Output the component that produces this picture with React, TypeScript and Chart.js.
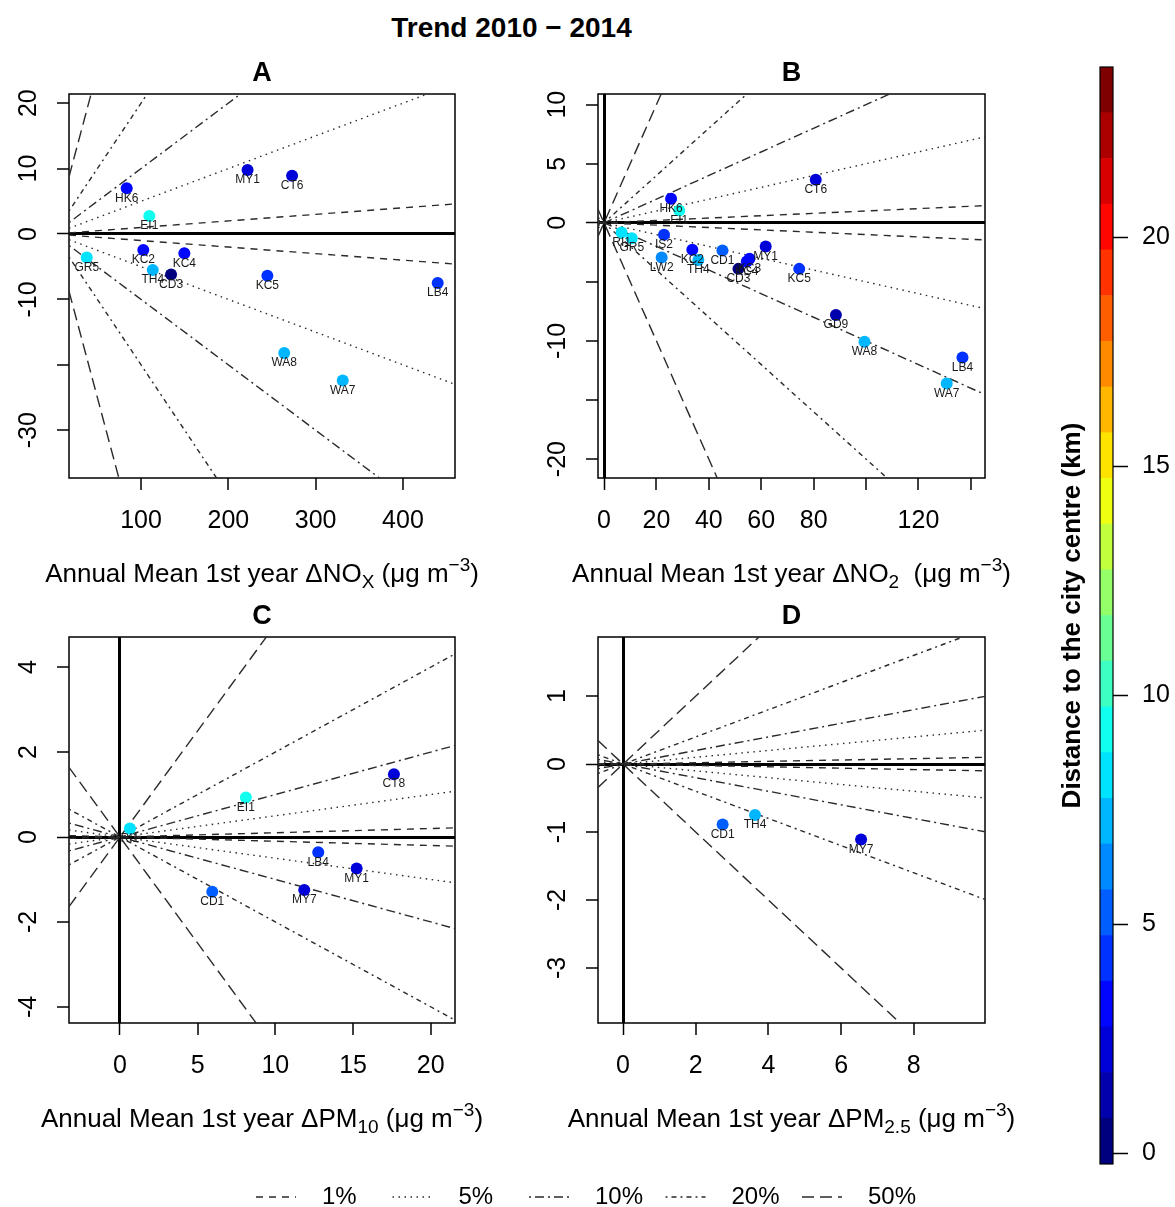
import React, { useEffect, useRef } from 'react';
import { Chart, registerables } from 'chart.js';

Chart.register(...registerables);

const FONT = "'Liberation Sans', Arial, Helvetica, sans-serif";
const INK = '#000000';
const TREND_INK = '#2a2a2a';

// Monitoring sites and their distance to the city centre (km)
const SITE_CODES = ['CD3', 'GD9', 'MY1', 'MY7', 'CT6', 'CT8', 'HK6', 'KC2', 'KC3', 'KC4', 'KC5', 'LB4', 'CD1', 'IS2', 'LW2', 'TH4', 'WA8', 'WA7', 'GR5', 'RI1', 'EI1'];
const SITE_DISTANCE_KM = [0.4, 1.2, 1.9, 1.8, 1.9, 1.9, 2.9, 3.3, 3.5, 3.2, 4.0, 3.9, 5.0, 4.4, 6.0, 6.8, 7.0, 7.3, 8.3, 8.6, 9.3];

// Colour scale (distance, km)
const COLOUR_MIN = -0.23;
const COLOUR_MAX = 23.72;
const COLOUR_LEVELS = 24;
const JET_STOPS = ['#00007F', '#0000FF', '#007FFF', '#00FFFF', '#7FFF7F', '#FFFF00', '#FF7F00', '#FF0000', '#7F0000'];
const COLOURBAR_TICKS = [0, 5, 10, 15, 20];

// Trend reference lines (% change per year)
const TREND_PCTS = [1, 5, 10, 20, 50];
const TREND_LABELS = ['1%', '5%', '10%', '20%', '50%'];
const TREND_DASHES = [[7, 6], [1.5, 4.5], [2, 4, 9, 4], [2, 4, 5, 4], [12, 6]];

// Panel A: NOx
const A_SITES = ['HK6', 'EI1', 'MY1', 'CT6', 'GR5', 'KC2', 'KC4', 'TH4', 'CD3', 'KC5', 'LB4', 'WA8', 'WA7'];
const A_X = [83.6, 109.5, 222, 273, 37.8, 102.6, 149.6, 113.4, 134.4, 244.7, 439.8, 264, 331];
const A_Y = [7.0, 2.75, 9.8, 8.9, -3.6, -2.45, -2.95, -5.5, -6.2, -6.4, -7.5, -18.2, -22.4];
const A_X_TICKS = [100, 200, 300, 400];
const A_X_TICK_LABELS = ['100', '200', '300', '400'];
const A_Y_TICKS = [-30, -20, -10, 0, 10, 20];
const A_Y_TICK_LABELS = ['-30', '', '-10', '0', '10', '20'];

// Panel B: NO2
const B_SITES = ['CT6', 'HK6', 'EI1', 'RI1', 'GR5', 'IS2', 'LW2', 'KC2', 'TH4', 'CD1', 'MY1', 'KC3', 'KC4', 'CD3', 'KC5', 'GD9', 'WA8', 'LB4', 'WA7'];
const B_X = [80.8, 25.6, 28.7, 6.7, 10.6, 22.9, 22.0, 33.7, 36.0, 45.2, 61.7, 55.5, 54.5, 51.3, 74.5, 88.5, 99.4, 136.8, 130.8];
const B_Y = [3.64, 2.03, 1.04, -0.82, -1.3, -1.02, -2.94, -2.29, -3.14, -2.34, -2.0, -3.05, -3.28, -3.9, -3.9, -7.8, -10.06, -11.4, -13.6];
const B_X_TICKS = [0, 20, 40, 60, 80, 100, 120, 140];
const B_X_TICK_LABELS = ['0', '20', '40', '60', '80', '', '120', ''];
const B_Y_TICKS = [-20, -15, -10, -5, 0, 5, 10];
const B_Y_TICK_LABELS = ['-20', '', '-10', '', '0', '5', '10'];

// Panel C: PM10
const C_SITES = ['CT8', 'EI1', 'RI1', 'LB4', 'MY1', 'MY7', 'CD1'];
const C_X = [17.63, 8.1, 0.64, 12.76, 15.23, 11.86, 5.94];
const C_Y = [1.48, 0.93, 0.2, -0.36, -0.74, -1.25, -1.29];
const C_X_TICKS = [0, 5, 10, 15, 20];
const C_X_TICK_LABELS = ['0', '5', '10', '15', '20'];
const C_Y_TICKS = [-4, -2, 0, 2, 4];
const C_Y_TICK_LABELS = ['-4', '-2', '0', '2', '4'];

// Panel D: PM2.5
const D_SITES = ['CD1', 'TH4', 'MY7'];
const D_X = [2.74, 3.63, 6.55];
const D_Y = [-0.89, -0.75, -1.11];
const D_X_TICKS = [0, 2, 4, 6, 8];
const D_X_TICK_LABELS = ['0', '2', '4', '6', '8'];
const D_Y_TICKS = [-3, -2, -1, 0, 1];
const D_Y_TICK_LABELS = ['-3', '-2', '-1', '0', '1'];

type Seg = { text: string; shift?: 'sub' | 'sup' };

type PanelSpec = {
  letter: string;
  sites: string[];
  x: number[];
  y: number[];
  xRange: [number, number];
  yRange: [number, number];
  xTicks: number[];
  xTickLabels: string[];
  yTicks: number[];
  yTickLabels: string[];
  yLabelPad: number;
  rightPad: number;
  axisTitle: Seg[];
};

function hexRgb(h: string): number[] {
  return [1, 3, 5].map((i) => parseInt(h.slice(i, i + 2), 16));
}

function rampColours(stops: string[], n: number): string[] {
  const out: string[] = [];
  for (let k = 0; k < n; k++) {
    const t = (k * (stops.length - 1)) / (n - 1);
    const i = Math.min(Math.floor(t), stops.length - 2);
    const f = t - i;
    const a = hexRgb(stops[i]);
    const b = hexRgb(stops[i + 1]);
    const c = a.map((v, j) => Math.round(v + (b[j] - v) * f));
    out.push(`rgb(${c[0]},${c[1]},${c[2]})`);
  }
  return out;
}

const COLOURS = rampColours(JET_STOPS, COLOUR_LEVELS);

function colourForDistance(d: number): string {
  const idx = Math.floor(((d - COLOUR_MIN) / (COLOUR_MAX - COLOUR_MIN)) * COLOUR_LEVELS);
  return COLOURS[Math.max(0, Math.min(COLOUR_LEVELS - 1, idx))];
}

function labelFor(values: number[], labels: string[], v: number): string {
  const i = values.findIndex((t) => Math.abs(t - v) < 1e-9);
  return i >= 0 ? labels[i] : '';
}

const zeroGrid = {
  display: true,
  drawOnChartArea: true,
  drawTicks: true,
  tickLength: 12,
  tickWidth: 1.5,
  tickColor: INK,
  color: (c: any) => (c.tick && c.tick.value === 0 ? INK : 'rgba(0,0,0,0)'),
  lineWidth: (c: any) => (c.tick && c.tick.value === 0 ? 3 : 0),
};

const plotFrame = {
  id: 'plotFrame',
  beforeDatasetsDraw(chart: any) {
    const { ctx, chartArea: a } = chart;
    ctx.save();
    ctx.strokeStyle = INK;
    ctx.lineWidth = 1.5;
    ctx.strokeRect(a.left, a.top, a.right - a.left, a.bottom - a.top);
    ctx.restore();
  },
};

const siteLabels = {
  id: 'siteLabels',
  afterDatasetsDraw(chart: any) {
    const { ctx } = chart;
    chart.data.datasets.forEach((ds: any, i: number) => {
      if (!ds.siteLabels) return;
      const meta = chart.getDatasetMeta(i);
      ctx.save();
      ctx.font = `12px ${FONT}`;
      ctx.fillStyle = '#1a1a1a';
      ctx.textAlign = 'center';
      ctx.textBaseline = 'middle';
      meta.data.forEach((el: any, j: number) => ctx.fillText(ds.siteLabels[j], el.x, el.y + 10));
      ctx.restore();
    });
  },
};

function axisTitlePlugin(segments: Seg[]) {
  return {
    id: 'richAxisTitle',
    afterDraw(chart: any) {
      const { ctx, chartArea } = chart;
      const base = 26;
      const small = 19;
      ctx.save();
      ctx.fillStyle = INK;
      ctx.textAlign = 'left';
      ctx.textBaseline = 'alphabetic';
      const widths = segments.map((s) => {
        ctx.font = `${s.shift ? small : base}px ${FONT}`;
        return ctx.measureText(s.text).width;
      });
      const total = widths.reduce((a, b) => a + b, 0);
      let x = (chartArea.left + chartArea.right) / 2 - total / 2;
      const baseline = chartArea.bottom + 104;
      segments.forEach((s, i) => {
        ctx.font = `${s.shift ? small : base}px ${FONT}`;
        const dy = s.shift === 'sub' ? 6 : s.shift === 'sup' ? -11 : 0;
        ctx.fillText(s.text, x, baseline + dy);
        x += widths[i];
      });
      ctx.restore();
    },
  };
}

function panelConfig(p: PanelSpec): any {
  const colours = p.sites.map((s) => colourForDistance(SITE_DISTANCE_KM[SITE_CODES.indexOf(s)]));
  const datasets: any[] = [
    {
      label: 'sites',
      data: p.x.map((x, i) => ({ x, y: p.y[i] })),
      backgroundColor: colours,
      borderWidth: 0,
      pointRadius: 6,
      pointHoverRadius: 6,
      order: 0,
      siteLabels: p.sites,
    },
  ];
  TREND_PCTS.forEach((pct, k) => {
    [1, -1].forEach((sign) => {
      const slope = (sign * pct) / 100;
      datasets.push({
        label: TREND_LABELS[k],
        data: [
          { x: p.xRange[0], y: slope * p.xRange[0] },
          { x: p.xRange[1], y: slope * p.xRange[1] },
        ],
        showLine: true,
        pointRadius: 0,
        borderColor: TREND_INK,
        borderWidth: 1.4,
        borderDash: TREND_DASHES[k],
        borderCapStyle: 'butt',
        fill: false,
        clip: 0,
        order: 1,
      });
    });
  });

  const tickFont = { family: FONT, size: 25 };
  return {
    type: 'scatter',
    data: { datasets },
    options: {
      responsive: false,
      animation: false,
      events: [],
      layout: { padding: { left: 0, right: p.rightPad, top: 0, bottom: 0 } },
      plugins: {
        legend: { display: false },
        tooltip: { enabled: false },
        title: {
          display: true,
          fullSize: false,
          text: p.letter,
          color: INK,
          font: { family: FONT, size: 27, weight: 'bold', lineHeight: 1 },
          padding: { top: 0, bottom: 7 },
        },
      },
      scales: {
        x: {
          type: 'linear',
          min: p.xRange[0],
          max: p.xRange[1],
          afterBuildTicks: (s: any) => {
            s.ticks = p.xTicks.map((v) => ({ value: v }));
          },
          afterFit: (s: any) => {
            s.height = 115;
          },
          ticks: {
            autoSkip: false,
            minRotation: 0,
            maxRotation: 0,
            padding: 16,
            color: INK,
            font: tickFont,
            callback: (v: number) => labelFor(p.xTicks, p.xTickLabels, v),
          },
          grid: zeroGrid,
          border: { display: false },
        },
        y: {
          type: 'linear',
          min: p.yRange[0],
          max: p.yRange[1],
          afterBuildTicks: (s: any) => {
            s.ticks = p.yTicks.map((v) => ({ value: v }));
          },
          afterFit: (s: any) => {
            s.width = 69;
          },
          ticks: {
            autoSkip: false,
            minRotation: 90,
            maxRotation: 90,
            crossAlign: 'center',
            padding: p.yLabelPad,
            color: INK,
            font: tickFont,
            callback: (v: number) => labelFor(p.yTicks, p.yTickLabels, v),
          },
          grid: zeroGrid,
          border: { display: false },
        },
      },
    },
    plugins: [plotFrame, siteLabels, axisTitlePlugin(p.axisTitle)],
  };
}

const PANELS: { spec: PanelSpec; left: number; top: number; width: number; height: number }[] = [
  {
    left: 0, top: 60, width: 520, height: 533,
    spec: {
      letter: 'A', sites: A_SITES, x: A_X, y: A_Y,
      xRange: [17.5, 459.6], yRange: [-37.3, 21.4],
      xTicks: A_X_TICKS, xTickLabels: A_X_TICK_LABELS, yTicks: A_Y_TICKS, yTickLabels: A_Y_TICK_LABELS,
      yLabelPad: 10, rightPad: 65,
      axisTitle: [{ text: 'Annual Mean 1st year \u0394NO' }, { text: 'X', shift: 'sub' }, { text: ' (\u03bcg m' }, { text: '\u22123', shift: 'sup' }, { text: ')' }],
    },
  },
  {
    left: 529, top: 60, width: 496, height: 533,
    spec: {
      letter: 'B', sites: B_SITES, x: B_X, y: B_Y,
      xRange: [-2.3, 145.4], yRange: [-21.6, 10.9],
      xTicks: B_X_TICKS, xTickLabels: B_X_TICK_LABELS, yTicks: B_Y_TICKS, yTickLabels: B_Y_TICK_LABELS,
      yLabelPad: 10, rightPad: 40,
      axisTitle: [{ text: 'Annual Mean 1st year \u0394NO' }, { text: '2', shift: 'sub' }, { text: '  (\u03bcg m' }, { text: '\u22123', shift: 'sup' }, { text: ')' }],
    },
  },
  {
    left: 0, top: 603, width: 520, height: 535,
    spec: {
      letter: 'C', sites: C_SITES, x: C_X, y: C_Y,
      xRange: [-3.28, 21.56], yRange: [-4.38, 4.71],
      xTicks: C_X_TICKS, xTickLabels: C_X_TICK_LABELS, yTicks: C_Y_TICKS, yTickLabels: C_Y_TICK_LABELS,
      yLabelPad: 17, rightPad: 65,
      axisTitle: [{ text: 'Annual Mean 1st year \u0394PM' }, { text: '10', shift: 'sub' }, { text: ' (\u03bcg m' }, { text: '\u22123', shift: 'sup' }, { text: ')' }],
    },
  },
  {
    left: 529, top: 603, width: 496, height: 535,
    spec: {
      letter: 'D', sites: D_SITES, x: D_X, y: D_Y,
      xRange: [-0.69, 9.96], yRange: [-3.81, 1.87],
      xTicks: D_X_TICKS, xTickLabels: D_X_TICK_LABELS, yTicks: D_Y_TICKS, yTickLabels: D_Y_TICK_LABELS,
      yLabelPad: 17, rightPad: 40,
      axisTitle: [{ text: 'Annual Mean 1st year \u0394PM' }, { text: '2.5', shift: 'sub' }, { text: ' (\u03bcg m' }, { text: '\u22123', shift: 'sup' }, { text: ')' }],
    },
  },
];

const colourbarFrame = {
  id: 'colourbarFrame',
  afterDatasetsDraw(chart: any) {
    const { ctx, chartArea: a } = chart;
    ctx.save();
    ctx.strokeStyle = INK;
    ctx.lineWidth = 1.2;
    ctx.strokeRect(a.left, a.top, a.right - a.left, a.bottom - a.top);
    ctx.restore();
  },
};

function colourbarConfig(): any {
  const step = (COLOUR_MAX - COLOUR_MIN) / COLOUR_LEVELS;
  const datasets = COLOURS.map((c, k) => ({
    data: [[COLOUR_MIN + k * step, COLOUR_MIN + (k + 1) * step]],
    backgroundColor: c,
    borderWidth: 0,
    barPercentage: 1,
    categoryPercentage: 1,
    xAxisID: 'x',
    yAxisID: 'y',
  }));
  return {
    type: 'bar',
    data: { labels: [''], datasets },
    options: {
      responsive: false,
      animation: false,
      events: [],
      layout: { padding: { left: 0, right: 0, top: 40, bottom: 40 } },
      plugins: { legend: { display: false }, tooltip: { enabled: false } },
      scales: {
        x: { type: 'category', stacked: true, display: false },
        y: {
          type: 'linear',
          position: 'right',
          stacked: false,
          min: COLOUR_MIN,
          max: COLOUR_MAX,
          afterBuildTicks: (s: any) => {
            s.ticks = COLOURBAR_TICKS.map((v) => ({ value: v }));
          },
          afterFit: (s: any) => {
            s.width = 62;
          },
          ticks: { autoSkip: false, padding: 14, color: INK, font: { family: FONT, size: 25 } },
          grid: { drawOnChartArea: false, drawTicks: true, tickLength: 15, tickWidth: 1.5, tickColor: INK, color: INK },
          border: { display: false },
        },
        yTitle: {
          type: 'linear',
          position: 'left',
          min: 0,
          max: 1,
          afterFit: (s: any) => {
            s.width = 60;
          },
          ticks: { display: false },
          grid: { display: false },
          border: { display: false },
          title: {
            display: true,
            text: 'Distance to the city centre (km)',
            color: INK,
            font: { family: FONT, size: 26, weight: 'bold' },
            padding: { top: 17, bottom: 0 },
          },
        },
      },
    },
    plugins: [colourbarFrame],
  };
}

// Key for the trend line styles, laid out in one row
const KEY_START = 256;
const KEY_STEP = 136.5;
const KEY_SAMPLE = 40;
const KEY_TEXT_OFFSET = 66;
const KEY_Y = 17;

const trendKey = {
  id: 'trendKey',
  afterDraw(chart: any) {
    const { ctx } = chart;
    chart.data.datasets.forEach((ds: any, k: number) => {
      const x0 = KEY_START + k * KEY_STEP;
      ctx.save();
      ctx.strokeStyle = ds.borderColor;
      ctx.lineWidth = ds.borderWidth;
      ctx.setLineDash(ds.borderDash);
      ctx.beginPath();
      ctx.moveTo(x0, KEY_Y);
      ctx.lineTo(x0 + KEY_SAMPLE, KEY_Y);
      ctx.stroke();
      ctx.setLineDash([]);
      ctx.font = `24px ${FONT}`;
      ctx.fillStyle = INK;
      ctx.textAlign = 'left';
      ctx.textBaseline = 'middle';
      ctx.fillText(ds.label, x0 + KEY_TEXT_OFFSET, KEY_Y);
      ctx.restore();
    });
  },
};

function keyConfig(): any {
  return {
    type: 'scatter',
    data: {
      datasets: TREND_PCTS.map((_, k) => ({
        label: TREND_LABELS[k],
        data: [],
        borderColor: TREND_INK,
        borderWidth: 1.4,
        borderDash: TREND_DASHES[k],
      })),
    },
    options: {
      responsive: false,
      animation: false,
      events: [],
      plugins: { legend: { display: false }, tooltip: { enabled: false } },
      scales: { x: { display: false }, y: { display: false } },
    },
    plugins: [trendKey],
  };
}

function ChartCanvas(props: { make: () => any; left: number; top: number; width: number; height: number }) {
  const ref = useRef<HTMLCanvasElement>(null);
  useEffect(() => {
    const chart = new Chart(ref.current as HTMLCanvasElement, props.make());
    return () => chart.destroy();
  }, []);
  return (
    <canvas
      ref={ref}
      width={props.width}
      height={props.height}
      style={{ position: 'absolute', left: props.left, top: props.top, width: props.width, height: props.height }}
    />
  );
}

export default function App() {
  return (
    <div style={{ position: 'absolute', left: 0, top: 0, width: 1175, height: 1207, background: '#ffffff', overflow: 'hidden' }}>
      <div
        style={{
          position: 'absolute',
          left: 0,
          top: 12,
          width: 1023,
          textAlign: 'center',
          fontFamily: FONT,
          fontWeight: 'bold',
          fontSize: 28,
          lineHeight: '32px',
          color: INK,
        }}
      >
        Trend 2010 − 2014
      </div>
      {PANELS.map((p) => (
        <ChartCanvas key={p.spec.letter} make={() => panelConfig(p.spec)} left={p.left} top={p.top} width={p.width} height={p.height} />
      ))}
      <ChartCanvas make={colourbarConfig} left={1040} top={27} width={135} height={1177} />
      <ChartCanvas make={keyConfig} left={0} top={1180} width={1040} height={27} />
    </div>
  );
}
